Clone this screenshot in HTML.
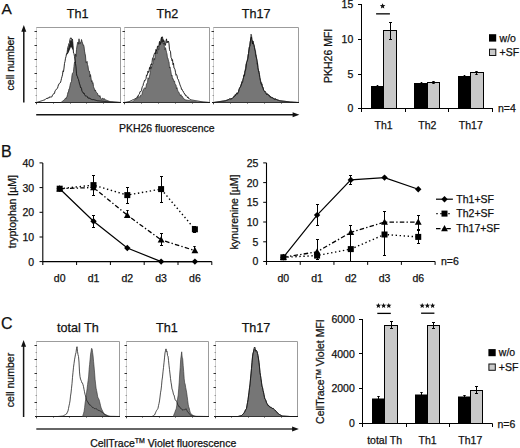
<!DOCTYPE html>
<html><head><meta charset="utf-8"><style>
html,body{margin:0;padding:0;background:#fff;}
svg{display:block;}
text{font-family:"Liberation Sans", sans-serif;fill:#111;stroke:#111;stroke-width:0.25px;}
</style></head><body>
<svg width="520" height="448" viewBox="0 0 520 448">
<rect width="520" height="448" fill="#fff"/>
<text x="1.5" y="13.5" font-size="15.5" text-anchor="start" >A</text>
<text x="1.0" y="157.3" font-size="16" text-anchor="start" >B</text>
<text x="0.9" y="329.1" font-size="16" text-anchor="start" >C</text>
<polyline points="36.5,27.5 120.5,27.5 120.5,102.5" fill="none" stroke="#9c9c9c" stroke-width="1"/>
<line x1="36.5" y1="27.5" x2="36.5" y2="102.5" stroke="#a0a0a0" stroke-width="1" stroke-dasharray="1 1"/>
<line x1="34.5" y1="88.5" x2="37.0" y2="88.5" stroke="#333" stroke-width="1.0" />
<line x1="34.5" y1="73.5" x2="37.0" y2="73.5" stroke="#333" stroke-width="1.0" />
<line x1="34.5" y1="59.5" x2="37.0" y2="59.5" stroke="#333" stroke-width="1.0" />
<line x1="34.5" y1="45.5" x2="37.0" y2="45.5" stroke="#333" stroke-width="1.0" />
<line x1="34.5" y1="31.5" x2="37.0" y2="31.5" stroke="#333" stroke-width="1.0" />
<line x1="35.5" y1="95.5" x2="37.0" y2="95.5" stroke="#888" stroke-width="0.8" />
<line x1="35.5" y1="81.5" x2="37.0" y2="81.5" stroke="#888" stroke-width="0.8" />
<line x1="35.5" y1="66.5" x2="37.0" y2="66.5" stroke="#888" stroke-width="0.8" />
<line x1="35.5" y1="52.5" x2="37.0" y2="52.5" stroke="#888" stroke-width="0.8" />
<line x1="35.5" y1="38.5" x2="37.0" y2="38.5" stroke="#888" stroke-width="0.8" />
<line x1="53.5" y1="102.5" x2="53.5" y2="104.0" stroke="#777" stroke-width="0.8" />
<line x1="70.5" y1="102.5" x2="70.5" y2="104.0" stroke="#777" stroke-width="0.8" />
<line x1="86.5" y1="102.5" x2="86.5" y2="104.0" stroke="#777" stroke-width="0.8" />
<line x1="103.5" y1="102.5" x2="103.5" y2="104.0" stroke="#777" stroke-width="0.8" />
<line x1="36.5" y1="102.5" x2="36.5" y2="104.3" stroke="#444" stroke-width="1.0" />
<line x1="35.0" y1="102.5" x2="121.0" y2="102.5" stroke="#1a1a1a" stroke-width="1.2" />
<polyline points="124.5,27.5 209.5,27.5 209.5,102.5" fill="none" stroke="#9c9c9c" stroke-width="1"/>
<line x1="124.5" y1="27.5" x2="124.5" y2="102.5" stroke="#a0a0a0" stroke-width="1" stroke-dasharray="1 1"/>
<line x1="122.5" y1="88.5" x2="125.0" y2="88.5" stroke="#333" stroke-width="1.0" />
<line x1="122.5" y1="73.5" x2="125.0" y2="73.5" stroke="#333" stroke-width="1.0" />
<line x1="122.5" y1="59.5" x2="125.0" y2="59.5" stroke="#333" stroke-width="1.0" />
<line x1="122.5" y1="45.5" x2="125.0" y2="45.5" stroke="#333" stroke-width="1.0" />
<line x1="122.5" y1="31.5" x2="125.0" y2="31.5" stroke="#333" stroke-width="1.0" />
<line x1="123.5" y1="95.5" x2="125.0" y2="95.5" stroke="#888" stroke-width="0.8" />
<line x1="123.5" y1="81.5" x2="125.0" y2="81.5" stroke="#888" stroke-width="0.8" />
<line x1="123.5" y1="66.5" x2="125.0" y2="66.5" stroke="#888" stroke-width="0.8" />
<line x1="123.5" y1="52.5" x2="125.0" y2="52.5" stroke="#888" stroke-width="0.8" />
<line x1="123.5" y1="38.5" x2="125.0" y2="38.5" stroke="#888" stroke-width="0.8" />
<line x1="141.5" y1="102.5" x2="141.5" y2="104.0" stroke="#777" stroke-width="0.8" />
<line x1="158.5" y1="102.5" x2="158.5" y2="104.0" stroke="#777" stroke-width="0.8" />
<line x1="175.5" y1="102.5" x2="175.5" y2="104.0" stroke="#777" stroke-width="0.8" />
<line x1="192.5" y1="102.5" x2="192.5" y2="104.0" stroke="#777" stroke-width="0.8" />
<line x1="124.5" y1="102.5" x2="124.5" y2="104.3" stroke="#444" stroke-width="1.0" />
<line x1="123.0" y1="102.5" x2="210.0" y2="102.5" stroke="#1a1a1a" stroke-width="1.2" />
<polyline points="213.5,27.5 298.5,27.5 298.5,102.5" fill="none" stroke="#9c9c9c" stroke-width="1"/>
<line x1="213.5" y1="27.5" x2="213.5" y2="102.5" stroke="#a0a0a0" stroke-width="1" stroke-dasharray="1 1"/>
<line x1="211.5" y1="88.5" x2="214.0" y2="88.5" stroke="#333" stroke-width="1.0" />
<line x1="211.5" y1="73.5" x2="214.0" y2="73.5" stroke="#333" stroke-width="1.0" />
<line x1="211.5" y1="59.5" x2="214.0" y2="59.5" stroke="#333" stroke-width="1.0" />
<line x1="211.5" y1="45.5" x2="214.0" y2="45.5" stroke="#333" stroke-width="1.0" />
<line x1="211.5" y1="31.5" x2="214.0" y2="31.5" stroke="#333" stroke-width="1.0" />
<line x1="212.5" y1="95.5" x2="214.0" y2="95.5" stroke="#888" stroke-width="0.8" />
<line x1="212.5" y1="81.5" x2="214.0" y2="81.5" stroke="#888" stroke-width="0.8" />
<line x1="212.5" y1="66.5" x2="214.0" y2="66.5" stroke="#888" stroke-width="0.8" />
<line x1="212.5" y1="52.5" x2="214.0" y2="52.5" stroke="#888" stroke-width="0.8" />
<line x1="212.5" y1="38.5" x2="214.0" y2="38.5" stroke="#888" stroke-width="0.8" />
<line x1="230.5" y1="102.5" x2="230.5" y2="104.0" stroke="#777" stroke-width="0.8" />
<line x1="247.5" y1="102.5" x2="247.5" y2="104.0" stroke="#777" stroke-width="0.8" />
<line x1="264.5" y1="102.5" x2="264.5" y2="104.0" stroke="#777" stroke-width="0.8" />
<line x1="281.5" y1="102.5" x2="281.5" y2="104.0" stroke="#777" stroke-width="0.8" />
<line x1="213.5" y1="102.5" x2="213.5" y2="104.3" stroke="#444" stroke-width="1.0" />
<line x1="212.0" y1="102.5" x2="299.0" y2="102.5" stroke="#1a1a1a" stroke-width="1.2" />
<polygon points="61.00,102.50 61.50,102.09 62.00,101.68 62.50,101.27 63.00,100.86 63.50,100.45 64.00,100.05 64.50,99.64 65.00,98.91 65.50,98.15 66.00,98.71 66.50,97.09 67.00,96.57 67.50,94.60 68.00,92.13 68.50,91.97 69.00,88.82 69.50,88.67 70.00,85.73 70.50,83.33 71.00,82.13 71.50,81.45 72.00,75.44 72.50,73.30 73.00,72.80 73.50,71.66 74.00,66.50 74.50,62.36 75.00,63.10 75.50,53.94 76.00,56.50 76.50,49.49 77.00,45.89 77.50,43.13 78.00,42.03 78.50,44.26 79.00,38.80 79.50,42.44 80.00,44.06 80.50,42.27 81.00,42.52 81.50,39.52 82.00,41.56 82.50,42.80 83.00,45.30 83.50,44.89 84.00,46.49 84.50,51.09 85.00,53.50 85.50,56.02 86.00,62.36 86.50,62.97 87.00,61.34 87.50,64.66 88.00,66.13 88.50,70.31 89.00,71.54 89.50,71.21 90.00,77.04 90.50,74.55 91.00,78.10 91.50,81.71 92.00,80.63 92.50,83.40 93.00,82.76 93.50,86.63 94.00,88.23 94.50,88.72 95.00,91.04 95.50,90.20 96.00,92.14 96.50,92.46 97.00,93.07 97.50,93.36 98.00,95.13 98.50,96.05 99.00,95.41 99.50,96.56 100.00,95.76 100.50,97.92 101.00,98.35 101.50,99.26 102.00,99.08 102.50,98.21 103.00,98.61 103.50,99.34 104.00,98.36 104.50,99.36 105.00,99.62 105.50,99.82 106.00,100.02 106.50,100.22 107.00,100.41 107.50,100.61 108.00,100.81 108.50,101.01 109.00,101.20 109.50,101.40 110.00,101.60 110.50,101.64 111.00,101.69 111.50,101.73 112.00,101.77 112.50,101.81 113.00,101.86 113.50,101.90 114.00,101.94 114.50,101.99 115.00,102.03 115.50,102.07 116.00,102.11 116.50,102.16 117.00,102.20 117.50,102.24 118.00,102.29 118.50,102.33 119.00,102.37 119.50,102.41 120.00,102.46 120.50,102.50" fill="#767676" stroke="#2a2a2a" stroke-width="0.8"/>
<polyline points="36.50,102.50 37.00,102.34 37.50,102.17 38.00,102.01 38.50,101.85 39.00,101.69 39.50,101.52 40.00,101.36 40.50,101.20 41.00,101.04 41.50,100.87 42.00,100.71 42.50,100.55 43.00,100.39 43.50,100.22 44.00,100.06 44.50,99.90 45.00,99.70 45.50,99.10 46.00,98.78 46.50,98.45 47.00,99.01 47.50,98.00 48.00,97.89 48.50,97.81 49.00,98.19 49.50,96.88 50.00,97.13 50.50,97.02 51.00,97.25 51.50,96.92 52.00,96.75 52.50,95.11 53.00,94.59 53.50,93.74 54.00,93.96 54.50,93.39 55.00,91.10 55.50,90.39 56.00,89.75 56.50,89.00 57.00,88.80 57.50,88.30 58.00,86.40 58.50,84.61 59.00,84.48 59.50,83.20 60.00,82.58 60.50,82.52 61.00,80.67 61.50,78.35 62.00,76.66 62.50,74.86 63.00,70.83 63.50,71.66 64.00,68.07 64.50,63.43 65.00,61.50 65.50,58.25 66.00,56.61 66.50,53.73 67.00,53.93 67.50,49.26 68.00,47.02 68.50,45.39 69.00,43.44 69.50,42.52 70.00,39.44 70.50,37.94 71.00,38.14 71.50,38.15 72.00,40.12 72.50,39.24 73.00,45.74 73.50,53.09 74.00,53.70 74.50,56.69 75.00,60.11 75.50,63.53 76.00,66.93 76.50,73.84 77.00,76.26 77.50,76.60 78.00,78.65 78.50,79.54 79.00,81.64 79.50,83.86 80.00,84.94 80.50,87.57 81.00,87.28 81.50,88.27 82.00,91.51 82.50,91.90 83.00,92.14 83.50,93.38 84.00,92.96 84.50,94.35 85.00,95.60 85.50,95.88 86.00,96.10 86.50,95.94 87.00,96.61 87.50,96.84 88.00,98.15 88.50,98.13 89.00,98.58 89.50,98.18 90.00,98.20 90.50,99.05 91.00,99.39 91.50,99.38 92.00,99.46 92.50,99.62 93.00,99.68 93.50,99.57 94.00,99.72 94.50,99.87 95.00,100.02 95.50,100.17 96.00,100.31 96.50,100.46 97.00,100.61 97.50,100.72 98.00,100.77 98.50,100.82 99.00,100.87 99.50,100.93 100.00,100.98 100.50,101.03 101.00,101.08 101.50,101.13 102.00,101.18 102.50,101.23 103.00,101.28 103.50,101.33 104.00,101.39 104.50,101.44 105.00,101.49 105.50,101.54 106.00,101.59 106.50,101.64 107.00,101.69 107.50,101.74 108.00,101.80 108.50,101.85 109.00,101.90 109.50,101.95 110.00,102.00 110.50,102.02 111.00,102.05 111.50,102.07 112.00,102.10 112.50,102.12 113.00,102.14 113.50,102.17 114.00,102.19 114.50,102.21 115.00,102.24 115.50,102.26 116.00,102.29 116.50,102.31 117.00,102.33 117.50,102.36 118.00,102.38 118.50,102.40 119.00,102.43 119.50,102.45 120.00,102.48 120.50,102.50" fill="none" stroke="#111" stroke-width="0.9"/>
<polygon points="66.50,55.20 68.50,46.70 70.30,40.50 71.20,39.60 72.30,41.20 72.90,42.00 73.30,50.70 71.00,46.70 68.50,52.70" fill="#222"/>
<polygon points="127.00,102.50 127.50,102.42 128.00,102.34 128.50,102.27 129.00,102.19 129.50,102.11 130.00,102.03 130.50,101.96 131.00,101.88 131.50,101.80 132.00,101.72 132.50,101.65 133.00,101.45 133.50,101.08 134.00,100.70 134.50,100.33 135.00,99.95 135.50,99.58 136.00,98.74 136.50,98.86 137.00,98.18 137.50,97.15 138.00,96.73 138.50,96.86 139.00,96.42 139.50,97.01 140.00,97.27 140.50,95.24 141.00,95.70 141.50,95.07 142.00,94.21 142.50,91.66 143.00,90.36 143.50,89.52 144.00,88.56 144.50,87.73 145.00,88.37 145.50,88.57 146.00,86.91 146.50,84.02 147.00,83.24 147.50,82.39 148.00,77.75 148.50,78.84 149.00,78.55 149.50,76.08 150.00,73.95 150.50,70.55 151.00,66.90 151.50,68.25 152.00,63.66 152.50,64.38 153.00,63.88 153.50,59.16 154.00,57.94 154.50,60.10 155.00,57.48 155.50,52.67 156.00,51.11 156.50,50.01 157.00,53.81 157.50,51.96 158.00,46.24 158.50,49.71 159.00,49.60 159.50,46.13 160.00,42.73 160.50,43.15 161.00,39.12 161.50,37.24 162.00,43.43 162.50,40.44 163.00,38.90 163.50,44.17 164.00,42.82 164.50,48.22 165.00,49.86 165.50,47.64 166.00,49.95 166.50,52.26 167.00,53.97 167.50,58.18 168.00,58.19 168.50,61.20 169.00,61.56 169.50,68.02 170.00,66.89 170.50,69.48 171.00,72.13 171.50,75.73 172.00,75.01 172.50,78.87 173.00,78.41 173.50,80.04 174.00,81.50 174.50,80.91 175.00,84.16 175.50,84.49 176.00,84.88 176.50,88.80 177.00,87.60 177.50,89.66 178.00,91.48 178.50,91.94 179.00,92.28 179.50,93.84 180.00,94.75 180.50,95.82 181.00,94.63 181.50,96.24 182.00,96.03 182.50,96.62 183.00,98.16 183.50,98.12 184.00,98.71 184.50,99.55 185.00,99.60 185.50,99.85 186.00,99.94 186.50,100.03 187.00,100.11 187.50,100.20 188.00,100.29 188.50,100.37 189.00,100.46 189.50,100.54 190.00,100.63 190.50,100.72 191.00,100.80 191.50,100.89 192.00,100.98 192.50,101.06 193.00,101.15 193.50,101.24 194.00,101.32 194.50,101.41 195.00,101.50 195.50,101.58 196.00,101.67 196.50,101.76 197.00,101.84 197.50,101.93 198.00,102.00 198.50,102.03 199.00,102.05 199.50,102.07 200.00,102.09 200.50,102.11 201.00,102.13 201.50,102.16 202.00,102.18 202.50,102.20 203.00,102.22 203.50,102.24 204.00,102.26 204.50,102.28 205.00,102.31 205.50,102.33 206.00,102.35 206.50,102.37 207.00,102.39 207.50,102.41 208.00,102.44 208.50,102.46 209.00,102.48 209.50,102.50" fill="#767676" stroke="#2a2a2a" stroke-width="0.7"/>
<polyline points="124.50,102.50 125.00,102.40 125.50,102.31 126.00,102.21 126.50,102.12 127.00,102.02 127.50,101.93 128.00,101.83 128.50,101.73 129.00,101.64 129.50,101.45 130.00,101.21 130.50,100.96 131.00,100.71 131.50,100.47 132.00,100.22 132.50,99.97 133.00,99.73 133.50,99.96 134.00,99.16 134.50,99.13 135.00,98.75 135.50,98.51 136.00,98.51 136.50,97.93 137.00,97.22 137.50,96.30 138.00,96.28 138.50,95.04 139.00,94.57 139.50,93.91 140.00,91.65 140.50,91.47 141.00,91.52 141.50,90.48 142.00,87.82 142.50,86.32 143.00,85.74 143.50,83.27 144.00,82.31 144.50,80.36 145.00,80.78 145.50,79.76 146.00,78.75 146.50,74.87 147.00,75.56 147.50,74.12 148.00,70.99 148.50,72.48 149.00,71.58 149.50,67.46 150.00,69.09 150.50,65.38 151.00,64.22 151.50,64.82 152.00,62.67 152.50,58.25 153.00,57.91 153.50,56.77 154.00,54.87 154.50,53.20 155.00,52.75 155.50,53.65 156.00,49.31 156.50,50.86 157.00,49.31 157.50,46.11 158.00,46.42 158.50,46.66 159.00,44.88 159.50,41.38 160.00,44.90 160.50,42.68 161.00,42.54 161.50,37.21 162.00,37.30 162.50,36.90 163.00,41.99 163.50,40.51 164.00,40.34 164.50,42.40 165.00,45.47 165.50,45.15 166.00,40.86 166.50,38.86 167.00,43.02 167.50,41.32 168.00,42.12 168.50,41.19 169.00,43.83 169.50,49.72 170.00,51.04 170.50,51.40 171.00,57.41 171.50,58.00 172.00,60.72 172.50,59.62 173.00,64.70 173.50,63.21 174.00,68.19 174.50,68.32 175.00,69.66 175.50,72.23 176.00,75.32 176.50,74.59 177.00,75.65 177.50,78.49 178.00,79.07 178.50,80.20 179.00,81.90 179.50,83.12 180.00,84.88 180.50,86.19 181.00,87.17 181.50,89.31 182.00,89.15 182.50,90.64 183.00,90.92 183.50,92.30 184.00,92.65 184.50,94.01 185.00,94.02 185.50,95.76 186.00,95.86 186.50,95.68 187.00,96.59 187.50,97.73 188.00,96.90 188.50,98.37 189.00,98.25 189.50,98.76 190.00,99.61 190.50,99.63 191.00,99.85 191.50,99.94 192.00,100.03 192.50,100.11 193.00,100.20 193.50,100.29 194.00,100.38 194.50,100.46 195.00,100.55 195.50,100.64 196.00,100.73 196.50,100.81 197.00,100.90 197.50,100.99 198.00,101.07 198.50,101.16 199.00,101.25 199.50,101.34 200.00,101.42 200.50,101.51 201.00,101.60 201.50,101.69 202.00,101.77 202.50,101.86 203.00,101.95 203.50,102.02 204.00,102.06 204.50,102.10 205.00,102.14 205.50,102.18 206.00,102.22 206.50,102.26 207.00,102.30 207.50,102.34 208.00,102.38 208.50,102.42 209.00,102.46 209.50,102.50" fill="none" stroke="#111" stroke-width="0.9"/>
<polygon points="213.50,102.50 214.00,102.42 214.50,102.35 215.00,102.28 215.50,102.20 216.00,102.12 216.50,102.05 217.00,101.97 217.50,101.90 218.00,101.83 218.50,101.75 219.00,101.67 219.50,101.60 220.00,101.53 220.50,101.45 221.00,101.38 221.50,101.30 222.00,101.23 222.50,101.15 223.00,101.08 223.50,101.00 224.00,100.92 224.50,100.85 225.00,100.78 225.50,100.70 226.00,100.51 226.50,100.33 227.00,100.14 227.50,99.95 228.00,99.76 228.50,99.58 229.00,99.22 229.50,99.21 230.00,99.32 230.50,99.63 231.00,98.37 231.50,99.03 232.00,98.63 232.50,98.32 233.00,97.52 233.50,96.90 234.00,95.77 234.50,95.39 235.00,94.73 235.50,95.76 236.00,94.11 236.50,93.36 237.00,92.63 237.50,94.10 238.00,93.71 238.50,92.08 239.00,89.67 239.50,88.24 240.00,87.11 240.50,86.39 241.00,84.04 241.50,83.80 242.00,81.58 242.50,82.70 243.00,81.15 243.50,77.70 244.00,74.69 244.50,76.15 245.00,70.58 245.50,68.28 246.00,63.91 246.50,63.35 247.00,61.31 247.50,58.94 248.00,54.64 248.50,53.66 249.00,47.78 249.50,46.38 250.00,41.91 250.50,40.53 251.00,34.08 251.50,35.19 252.00,39.67 252.50,40.41 253.00,43.13 253.50,43.10 254.00,46.06 254.50,47.22 255.00,50.57 255.50,54.53 256.00,54.54 256.50,57.20 257.00,64.21 257.50,62.97 258.00,68.86 258.50,71.19 259.00,71.06 259.50,77.20 260.00,79.87 260.50,81.22 261.00,83.42 261.50,85.03 262.00,83.92 262.50,86.65 263.00,87.93 263.50,90.21 264.00,90.84 264.50,91.62 265.00,91.64 265.50,93.25 266.00,93.39 266.50,94.15 267.00,93.73 267.50,93.60 268.00,94.20 268.50,95.08 269.00,94.84 269.50,96.80 270.00,96.53 270.50,97.00 271.00,97.32 271.50,97.75 272.00,97.71 272.50,97.13 273.00,98.76 273.50,98.84 274.00,98.60 274.50,98.84 275.00,99.22 275.50,98.46 276.00,99.70 276.50,99.52 277.00,99.70 277.50,99.89 278.00,100.07 278.50,100.26 279.00,100.44 279.50,100.63 280.00,100.74 280.50,100.80 281.00,100.86 281.50,100.92 282.00,100.98 282.50,101.04 283.00,101.10 283.50,101.16 284.00,101.22 284.50,101.28 285.00,101.34 285.50,101.40 286.00,101.46 286.50,101.52 287.00,101.58 287.50,101.64 288.00,101.70 288.50,101.76 289.00,101.82 289.50,101.88 290.00,101.94 290.50,102.00 291.00,102.03 291.50,102.06 292.00,102.09 292.50,102.12 293.00,102.16 293.50,102.19 294.00,102.22 294.50,102.25 295.00,102.28 295.50,102.31 296.00,102.34 296.50,102.38 297.00,102.41 297.50,102.44 298.00,102.47 298.50,102.50" fill="#767676" stroke="#2a2a2a" stroke-width="0.7"/>
<polyline points="213.50,102.50 214.00,102.42 214.50,102.35 215.00,102.28 215.50,102.20 216.00,102.12 216.50,102.05 217.00,101.97 217.50,101.90 218.00,101.83 218.50,101.75 219.00,101.67 219.50,101.60 220.00,101.53 220.50,101.45 221.00,101.38 221.50,101.30 222.00,101.23 222.50,101.15 223.00,101.08 223.50,101.00 224.00,100.92 224.50,100.85 225.00,100.78 225.50,100.70 226.00,100.51 226.50,100.33 227.00,100.14 227.50,99.95 228.00,99.76 228.50,99.58 229.00,99.15 229.50,98.79 230.00,98.78 230.50,99.06 231.00,98.33 231.50,98.71 232.00,98.78 232.50,98.07 233.00,97.56 233.50,97.17 234.00,96.94 234.50,96.56 235.00,95.86 235.50,95.41 236.00,94.07 236.50,93.66 237.00,93.31 237.50,93.60 238.00,92.37 238.50,91.71 239.00,89.42 239.50,88.20 240.00,87.32 240.50,86.90 241.00,85.69 241.50,84.41 242.00,82.00 242.50,80.87 243.00,79.08 243.50,77.41 244.00,74.78 244.50,75.12 245.00,70.61 245.50,70.48 246.00,67.90 246.50,62.39 247.00,61.32 247.50,60.05 248.00,58.10 248.50,53.44 249.00,49.97 249.50,46.75 250.00,46.43 250.50,40.01 251.00,37.64 251.50,36.97 252.00,41.10 252.50,44.08 253.00,41.04 253.50,44.22 254.00,44.44 254.50,47.75 255.00,49.99 255.50,51.18 256.00,56.66 256.50,58.15 257.00,59.90 257.50,63.21 258.00,67.69 258.50,70.34 259.00,72.63 259.50,74.71 260.00,77.79 260.50,80.24 261.00,83.32 261.50,82.72 262.00,85.77 262.50,87.29 263.00,87.14 263.50,89.98 264.00,90.30 264.50,91.39 265.00,91.03 265.50,91.93 266.00,92.72 266.50,94.44 267.00,94.54 267.50,94.53 268.00,94.96 268.50,95.08 269.00,95.11 269.50,95.53 270.00,96.84 270.50,96.46 271.00,97.61 271.50,97.10 272.00,97.46 272.50,98.05 273.00,97.88 273.50,98.27 274.00,99.07 274.50,99.17 275.00,99.27 275.50,99.27 276.00,99.72 276.50,99.52 277.00,99.70 277.50,99.89 278.00,100.07 278.50,100.26 279.00,100.44 279.50,100.63 280.00,100.74 280.50,100.80 281.00,100.86 281.50,100.92 282.00,100.98 282.50,101.04 283.00,101.10 283.50,101.16 284.00,101.22 284.50,101.28 285.00,101.34 285.50,101.40 286.00,101.46 286.50,101.52 287.00,101.58 287.50,101.64 288.00,101.70 288.50,101.76 289.00,101.82 289.50,101.88 290.00,101.94 290.50,102.00 291.00,102.03 291.50,102.06 292.00,102.09 292.50,102.12 293.00,102.16 293.50,102.19 294.00,102.22 294.50,102.25 295.00,102.28 295.50,102.31 296.00,102.34 296.50,102.38 297.00,102.41 297.50,102.44 298.00,102.47 298.50,102.50" fill="none" stroke="#111" stroke-width="0.9"/>
<text x="77.6" y="17.5" font-size="12.6" text-anchor="middle" >Th1</text>
<text x="167.3" y="17.5" font-size="12.6" text-anchor="middle" >Th2</text>
<text x="256.2" y="17.5" font-size="12.6" text-anchor="middle" >Th17</text>
<line x1="23.8" y1="102.5" x2="23.8" y2="30" stroke="#151515" stroke-width="1.5" />
<polygon points="21.3,31.8 23.8,25 26.3,31.8" fill="#111"/>
<line x1="36.2" y1="114.8" x2="294.4" y2="114.8" stroke="#151515" stroke-width="1.5" />
<polygon points="292.59999999999997,112.3 299.4,114.8 292.59999999999997,117.3" fill="#111"/>
<text x="0" y="0" font-size="10.5" text-anchor="middle" transform="translate(13.8,63.3) rotate(-90)" >cell number</text>
<text x="166.8" y="132.4" font-size="10.5" text-anchor="middle" >PKH26 fluorescence</text>
<line x1="361.5" y1="4.0" x2="361.5" y2="112.0" stroke="#000" stroke-width="1.0" />
<line x1="358.0" y1="4.5" x2="361.5" y2="4.5" stroke="#000" stroke-width="1.0" />
<text x="353.3" y="8.1" font-size="10.5" text-anchor="end" >15</text>
<line x1="358.0" y1="39.5" x2="361.5" y2="39.5" stroke="#000" stroke-width="1.0" />
<text x="353.3" y="43.1" font-size="10.5" text-anchor="end" >10</text>
<line x1="358.0" y1="74.5" x2="361.5" y2="74.5" stroke="#000" stroke-width="1.0" />
<text x="353.3" y="78.1" font-size="10.5" text-anchor="end" >5</text>
<line x1="358.0" y1="108.5" x2="361.5" y2="108.5" stroke="#000" stroke-width="1.0" />
<text x="353.3" y="112.1" font-size="10.5" text-anchor="end" >0</text>
<line x1="361.5" y1="108.5" x2="493.0" y2="108.5" stroke="#000" stroke-width="1.0" />
<line x1="405.5" y1="108.5" x2="405.5" y2="112.0" stroke="#000" stroke-width="1.0" />
<line x1="448.5" y1="108.5" x2="448.5" y2="112.0" stroke="#000" stroke-width="1.0" />
<line x1="492.5" y1="108.5" x2="492.5" y2="112.0" stroke="#000" stroke-width="1.0" />
<rect x="371" y="86" width="13" height="23" fill="#000"/>
<rect x="383.5" y="30.5" width="13.0" height="78.0" fill="#c9c9c9" stroke="#000" stroke-width="1"/>
<rect x="414" y="83" width="14" height="26" fill="#000"/>
<rect x="427.5" y="82.5" width="12.0" height="26.0" fill="#c9c9c9" stroke="#000" stroke-width="1"/>
<rect x="458" y="76" width="13" height="33" fill="#000"/>
<rect x="470.5" y="72.5" width="13.0" height="36.0" fill="#c9c9c9" stroke="#000" stroke-width="1"/>
<line x1="390.5" y1="22.3" x2="390.5" y2="39.2" stroke="#000" stroke-width="1.0" />
<line x1="389.0" y1="22.5" x2="392.0" y2="22.5" stroke="#000" stroke-width="1.0" />
<line x1="389.0" y1="39.5" x2="392.0" y2="39.5" stroke="#000" stroke-width="1.0" />
<line x1="377.5" y1="85.3" x2="377.5" y2="86.4" stroke="#000" stroke-width="1.0" />
<line x1="376.7" y1="85.5" x2="378.3" y2="85.5" stroke="#000" stroke-width="1.0" />
<line x1="376.7" y1="86.5" x2="378.3" y2="86.5" stroke="#000" stroke-width="1.0" />
<line x1="421.5" y1="82.6" x2="421.5" y2="83.8" stroke="#000" stroke-width="1.0" />
<line x1="420.7" y1="82.5" x2="422.3" y2="82.5" stroke="#000" stroke-width="1.0" />
<line x1="420.7" y1="83.5" x2="422.3" y2="83.5" stroke="#000" stroke-width="1.0" />
<line x1="433.5" y1="81.3" x2="433.5" y2="83.2" stroke="#000" stroke-width="1.0" />
<line x1="432.3" y1="81.5" x2="434.7" y2="81.5" stroke="#000" stroke-width="1.0" />
<line x1="432.3" y1="83.5" x2="434.7" y2="83.5" stroke="#000" stroke-width="1.0" />
<line x1="464.5" y1="75.6" x2="464.5" y2="77.0" stroke="#000" stroke-width="1.0" />
<line x1="463.7" y1="75.5" x2="465.3" y2="75.5" stroke="#000" stroke-width="1.0" />
<line x1="463.7" y1="77.5" x2="465.3" y2="77.5" stroke="#000" stroke-width="1.0" />
<line x1="476.5" y1="71.4" x2="476.5" y2="74.2" stroke="#000" stroke-width="1.0" />
<line x1="475.3" y1="71.5" x2="477.7" y2="71.5" stroke="#000" stroke-width="1.0" />
<line x1="475.3" y1="74.5" x2="477.7" y2="74.5" stroke="#000" stroke-width="1.0" />
<polygon points="382.60,3.20 383.37,5.04 385.36,5.20 383.84,6.50 384.30,8.45 382.60,7.40 380.90,8.45 381.36,6.50 379.84,5.20 381.83,5.04" fill="#111"/>
<line x1="376.1" y1="13.85" x2="389.9" y2="13.85" stroke="#000" stroke-width="1.3" />
<text x="383.6" y="128.7" font-size="10.5" text-anchor="middle" >Th1</text>
<text x="427.3" y="128.7" font-size="10.5" text-anchor="middle" >Th2</text>
<text x="470.8" y="128.7" font-size="10.5" text-anchor="middle" >Th17</text>
<text x="498.0" y="111.8" font-size="10.5" text-anchor="start" >n=4</text>
<text x="0" y="0" font-size="10.5" text-anchor="middle" transform="translate(332.3,55.9) rotate(-90)" >PKH26 MFI</text>
<rect x="489" y="34.2" width="7.2" height="7.4" fill="#000"/>
<text x="499.6" y="41.5" font-size="10.5" text-anchor="start" >w/o</text>
<rect x="489.5" y="49.2" width="6.3" height="6.3" fill="#c9c9c9" stroke="#111" stroke-width="1"/>
<text x="499.6" y="55.8" font-size="10.5" text-anchor="start" >+SF</text>
<line x1="362.5" y1="319.0" x2="362.5" y2="427.0" stroke="#000" stroke-width="1.0" />
<line x1="359.0" y1="319.5" x2="362.5" y2="319.5" stroke="#000" stroke-width="1.0" />
<text x="354.8" y="323.09999999999997" font-size="10.5" text-anchor="end" >6000</text>
<line x1="359.0" y1="353.5" x2="362.5" y2="353.5" stroke="#000" stroke-width="1.0" />
<text x="354.8" y="357.7" font-size="10.5" text-anchor="end" >4000</text>
<line x1="359.0" y1="388.5" x2="362.5" y2="388.5" stroke="#000" stroke-width="1.0" />
<text x="354.8" y="392.4" font-size="10.5" text-anchor="end" >2000</text>
<line x1="359.0" y1="423.5" x2="362.5" y2="423.5" stroke="#000" stroke-width="1.0" />
<text x="354.8" y="427.09999999999997" font-size="10.5" text-anchor="end" >0</text>
<line x1="362.5" y1="423.5" x2="492.5" y2="423.5" stroke="#000" stroke-width="1.0" />
<line x1="406.5" y1="423.5" x2="406.5" y2="427.0" stroke="#000" stroke-width="1.0" />
<line x1="449.5" y1="423.5" x2="449.5" y2="427.0" stroke="#000" stroke-width="1.0" />
<line x1="492.5" y1="423.5" x2="492.5" y2="427.0" stroke="#000" stroke-width="1.0" />
<rect x="372" y="398.5" width="13" height="25.5" fill="#000"/>
<rect x="384.5" y="325.5" width="13.0" height="98.0" fill="#c9c9c9" stroke="#000" stroke-width="1"/>
<rect x="415" y="394.5" width="13" height="29.5" fill="#000"/>
<rect x="427.5" y="325.5" width="12.0" height="98.0" fill="#c9c9c9" stroke="#000" stroke-width="1"/>
<rect x="458" y="396.5" width="13" height="27.5" fill="#000"/>
<rect x="470.5" y="390.5" width="12.0" height="33.0" fill="#c9c9c9" stroke="#000" stroke-width="1"/>
<line x1="391.5" y1="321.5" x2="391.5" y2="328.6" stroke="#000" stroke-width="1.0" />
<line x1="390.0" y1="321.5" x2="393.0" y2="321.5" stroke="#000" stroke-width="1.0" />
<line x1="390.0" y1="328.5" x2="393.0" y2="328.5" stroke="#000" stroke-width="1.0" />
<line x1="433.5" y1="322.5" x2="433.5" y2="328.5" stroke="#000" stroke-width="1.0" />
<line x1="432.0" y1="322.5" x2="435.0" y2="322.5" stroke="#000" stroke-width="1.0" />
<line x1="432.0" y1="328.5" x2="435.0" y2="328.5" stroke="#000" stroke-width="1.0" />
<line x1="476.5" y1="386.9" x2="476.5" y2="393.2" stroke="#000" stroke-width="1.0" />
<line x1="475.0" y1="386.5" x2="478.0" y2="386.5" stroke="#000" stroke-width="1.0" />
<line x1="475.0" y1="393.5" x2="478.0" y2="393.5" stroke="#000" stroke-width="1.0" />
<line x1="378.5" y1="396.4" x2="378.5" y2="399.5" stroke="#000" stroke-width="1.0" />
<line x1="377.3" y1="396.5" x2="379.7" y2="396.5" stroke="#000" stroke-width="1.0" />
<line x1="377.3" y1="399.5" x2="379.7" y2="399.5" stroke="#000" stroke-width="1.0" />
<line x1="421.5" y1="392.5" x2="421.5" y2="395.5" stroke="#000" stroke-width="1.0" />
<line x1="420.3" y1="392.5" x2="422.7" y2="392.5" stroke="#000" stroke-width="1.0" />
<line x1="420.3" y1="395.5" x2="422.7" y2="395.5" stroke="#000" stroke-width="1.0" />
<line x1="464.5" y1="395.3" x2="464.5" y2="397.8" stroke="#000" stroke-width="1.0" />
<line x1="463.3" y1="395.5" x2="465.7" y2="395.5" stroke="#000" stroke-width="1.0" />
<line x1="463.3" y1="397.5" x2="465.7" y2="397.5" stroke="#000" stroke-width="1.0" />
<polygon points="378.40,302.90 379.14,304.68 381.06,304.83 379.60,306.09 380.05,307.97 378.40,306.96 376.75,307.97 377.20,306.09 375.74,304.83 377.66,304.68" fill="#111"/>
<polygon points="383.60,302.90 384.34,304.68 386.26,304.83 384.80,306.09 385.25,307.97 383.60,306.96 381.95,307.97 382.40,306.09 380.94,304.83 382.86,304.68" fill="#111"/>
<polygon points="388.80,302.90 389.54,304.68 391.46,304.83 390.00,306.09 390.45,307.97 388.80,306.96 387.15,307.97 387.60,306.09 386.14,304.83 388.06,304.68" fill="#111"/>
<polygon points="422.20,302.90 422.94,304.68 424.86,304.83 423.40,306.09 423.85,307.97 422.20,306.96 420.55,307.97 421.00,306.09 419.54,304.83 421.46,304.68" fill="#111"/>
<polygon points="427.40,302.90 428.14,304.68 430.06,304.83 428.60,306.09 429.05,307.97 427.40,306.96 425.75,307.97 426.20,306.09 424.74,304.83 426.66,304.68" fill="#111"/>
<polygon points="432.60,302.90 433.34,304.68 435.26,304.83 433.80,306.09 434.25,307.97 432.60,306.96 430.95,307.97 431.40,306.09 429.94,304.83 431.86,304.68" fill="#111"/>
<line x1="377.3" y1="313.4" x2="390.8" y2="313.4" stroke="#000" stroke-width="1.3" />
<line x1="421.1" y1="313.2" x2="434.4" y2="313.2" stroke="#000" stroke-width="1.3" />
<text x="384.6" y="444.0" font-size="10.5" text-anchor="middle" >total Th</text>
<text x="427.6" y="444.0" font-size="10.5" text-anchor="middle" >Th1</text>
<text x="470.3" y="443.8" font-size="10.5" text-anchor="middle" >Th17</text>
<text x="497.5" y="427.6" font-size="10.5" text-anchor="start" >n=6</text>
<text x="0" y="0" font-size="10.5" text-anchor="middle" transform="translate(324.3,371.6) rotate(-90)">CellTrace<tspan font-size="7" dy="-3.5">TM</tspan><tspan dy="3.5"> Violet MFI</tspan></text>
<rect x="488.4" y="349.1" width="7.3" height="7.1" fill="#000"/>
<text x="498.8" y="356.3" font-size="10.5" text-anchor="start" >w/o</text>
<rect x="488.9" y="364.0" width="6.4" height="6.3" fill="#c9c9c9" stroke="#111" stroke-width="1"/>
<text x="498.8" y="370.7" font-size="10.5" text-anchor="start" >+SF</text>
<line x1="42.8" y1="162.9" x2="42.8" y2="265.0" stroke="#000" stroke-width="1.1" />
<line x1="39.5" y1="162.9" x2="42.8" y2="162.9" stroke="#000" stroke-width="1.0" />
<text x="34.2" y="166.8" font-size="10.5" text-anchor="end" >40</text>
<line x1="39.5" y1="187.6" x2="42.8" y2="187.6" stroke="#000" stroke-width="1.0" />
<text x="34.2" y="191.5" font-size="10.5" text-anchor="end" >30</text>
<line x1="39.5" y1="212.3" x2="42.8" y2="212.3" stroke="#000" stroke-width="1.0" />
<text x="34.2" y="216.20000000000002" font-size="10.5" text-anchor="end" >20</text>
<line x1="39.5" y1="237.0" x2="42.8" y2="237.0" stroke="#000" stroke-width="1.0" />
<text x="34.2" y="240.9" font-size="10.5" text-anchor="end" >10</text>
<line x1="39.5" y1="261.6" x2="42.8" y2="261.6" stroke="#000" stroke-width="1.0" />
<text x="34.2" y="265.5" font-size="10.5" text-anchor="end" >0</text>
<line x1="42.8" y1="261.6" x2="211.8" y2="261.6" stroke="#000" stroke-width="1.1" />
<line x1="76.6" y1="261.6" x2="76.6" y2="265.0" stroke="#000" stroke-width="1.0" />
<line x1="110.39999999999999" y1="261.6" x2="110.39999999999999" y2="265.0" stroke="#000" stroke-width="1.0" />
<line x1="144.2" y1="261.6" x2="144.2" y2="265.0" stroke="#000" stroke-width="1.0" />
<line x1="178.0" y1="261.6" x2="178.0" y2="265.0" stroke="#000" stroke-width="1.0" />
<line x1="211.8" y1="261.6" x2="211.8" y2="265.0" stroke="#000" stroke-width="1.0" />
<text x="59.699999999999996" y="282.3" font-size="10.5" text-anchor="middle" >d0</text>
<text x="93.5" y="282.3" font-size="10.5" text-anchor="middle" >d1</text>
<text x="127.3" y="282.3" font-size="10.5" text-anchor="middle" >d2</text>
<text x="161.09999999999997" y="282.3" font-size="10.5" text-anchor="middle" >d3</text>
<text x="194.89999999999998" y="282.3" font-size="10.5" text-anchor="middle" >d6</text>
<text x="0" y="0" font-size="10.5" text-anchor="middle" transform="translate(15.6,211.6) rotate(-90)" >tryptophan [µM]</text>
<line x1="93.5" y1="175.6" x2="93.5" y2="195.7" stroke="#000" stroke-width="1.0" />
<line x1="92.0" y1="175.5" x2="95.0" y2="175.5" stroke="#000" stroke-width="1.0" />
<line x1="92.0" y1="195.5" x2="95.0" y2="195.5" stroke="#000" stroke-width="1.0" />
<line x1="93.5" y1="215.8" x2="93.5" y2="227.3" stroke="#000" stroke-width="1.0" />
<line x1="92.0" y1="215.5" x2="95.0" y2="215.5" stroke="#000" stroke-width="1.0" />
<line x1="92.0" y1="227.5" x2="95.0" y2="227.5" stroke="#000" stroke-width="1.0" />
<line x1="127.5" y1="187.7" x2="127.5" y2="203.1" stroke="#000" stroke-width="1.0" />
<line x1="126.0" y1="187.5" x2="129.0" y2="187.5" stroke="#000" stroke-width="1.0" />
<line x1="126.0" y1="203.5" x2="129.0" y2="203.5" stroke="#000" stroke-width="1.0" />
<line x1="127.5" y1="210.2" x2="127.5" y2="215.0" stroke="#000" stroke-width="1.0" />
<line x1="126.3" y1="210.5" x2="128.7" y2="210.5" stroke="#000" stroke-width="1.0" />
<line x1="161.5" y1="176.4" x2="161.5" y2="202.1" stroke="#000" stroke-width="1.0" />
<line x1="160.0" y1="176.5" x2="163.0" y2="176.5" stroke="#000" stroke-width="1.0" />
<line x1="160.0" y1="202.5" x2="163.0" y2="202.5" stroke="#000" stroke-width="1.0" />
<line x1="161.5" y1="233.9" x2="161.5" y2="245.9" stroke="#000" stroke-width="1.0" />
<line x1="160.0" y1="233.5" x2="163.0" y2="233.5" stroke="#000" stroke-width="1.0" />
<line x1="160.0" y1="245.5" x2="163.0" y2="245.5" stroke="#000" stroke-width="1.0" />
<line x1="194.5" y1="226.3" x2="194.5" y2="232.3" stroke="#000" stroke-width="1.0" />
<line x1="193.0" y1="226.5" x2="196.0" y2="226.5" stroke="#000" stroke-width="1.0" />
<line x1="193.0" y1="232.5" x2="196.0" y2="232.5" stroke="#000" stroke-width="1.0" />
<line x1="194.5" y1="246.3" x2="194.5" y2="250.0" stroke="#000" stroke-width="1.0" />
<line x1="193.3" y1="246.5" x2="195.7" y2="246.5" stroke="#000" stroke-width="1.0" />
<polyline points="59.70,188.70 93.50,221.20 127.30,248.00 161.10,261.60 194.90,261.60" fill="none" stroke="#000" stroke-width="1.2"/>
<polyline points="59.70,188.70 93.50,185.10 127.30,195.10 161.10,189.10 194.90,229.30" fill="none" stroke="#000" stroke-width="1.4" stroke-dasharray="1.4 2.6"/>
<polyline points="59.70,188.70 93.50,187.50 127.30,215.20 161.10,239.90 194.90,250.60" fill="none" stroke="#000" stroke-width="1.3" stroke-dasharray="4.5 2.2 1.4 2.2"/>
<polygon points="56.49999999999999,188.7 59.699999999999996,185.5 62.9,188.7 59.699999999999996,191.89999999999998" fill="#000"/>
<polygon points="90.3,221.2 93.5,218.0 96.7,221.2 93.5,224.39999999999998" fill="#000"/>
<polygon points="124.1,248.0 127.3,244.8 130.5,248.0 127.3,251.2" fill="#000"/>
<polygon points="157.89999999999998,261.6 161.09999999999997,258.40000000000003 164.29999999999995,261.6 161.09999999999997,264.8" fill="#000"/>
<polygon points="191.7,261.6 194.89999999999998,258.40000000000003 198.09999999999997,261.6 194.89999999999998,264.8" fill="#000"/>
<rect x="56.699999999999996" y="185.7" width="6.0" height="6.0" fill="#000"/>
<rect x="90.5" y="182.1" width="6.0" height="6.0" fill="#000"/>
<rect x="124.3" y="192.1" width="6.0" height="6.0" fill="#000"/>
<rect x="158.09999999999997" y="186.1" width="6.0" height="6.0" fill="#000"/>
<rect x="191.89999999999998" y="226.3" width="6.0" height="6.0" fill="#000"/>
<polygon points="56.3,191.42 59.699999999999996,185.13 63.099999999999994,191.42" fill="#000"/>
<polygon points="90.1,190.22 93.5,183.93 96.9,190.22" fill="#000"/>
<polygon points="123.89999999999999,217.92 127.3,211.63 130.7,217.92" fill="#000"/>
<polygon points="157.69999999999996,242.62 161.09999999999997,236.33 164.49999999999997,242.62" fill="#000"/>
<polygon points="191.49999999999997,253.32 194.89999999999998,247.03 198.29999999999998,253.32" fill="#000"/>
<line x1="266.5" y1="162.9" x2="266.5" y2="264.9" stroke="#000" stroke-width="1.1" />
<line x1="263.2" y1="162.9" x2="266.5" y2="162.9" stroke="#000" stroke-width="1.0" />
<text x="258.4" y="166.8" font-size="10.5" text-anchor="end" >25</text>
<line x1="263.2" y1="182.6" x2="266.5" y2="182.6" stroke="#000" stroke-width="1.0" />
<text x="258.4" y="186.5" font-size="10.5" text-anchor="end" >20</text>
<line x1="263.2" y1="202.3" x2="266.5" y2="202.3" stroke="#000" stroke-width="1.0" />
<text x="258.4" y="206.20000000000002" font-size="10.5" text-anchor="end" >15</text>
<line x1="263.2" y1="222.0" x2="266.5" y2="222.0" stroke="#000" stroke-width="1.0" />
<text x="258.4" y="225.9" font-size="10.5" text-anchor="end" >10</text>
<line x1="263.2" y1="241.8" x2="266.5" y2="241.8" stroke="#000" stroke-width="1.0" />
<text x="258.4" y="245.70000000000002" font-size="10.5" text-anchor="end" >5</text>
<line x1="263.2" y1="261.5" x2="266.5" y2="261.5" stroke="#000" stroke-width="1.0" />
<text x="258.4" y="265.4" font-size="10.5" text-anchor="end" >0</text>
<line x1="266.5" y1="261.5" x2="435.1" y2="261.5" stroke="#000" stroke-width="1.1" />
<line x1="300.22" y1="261.5" x2="300.22" y2="264.9" stroke="#000" stroke-width="1.0" />
<line x1="333.94" y1="261.5" x2="333.94" y2="264.9" stroke="#000" stroke-width="1.0" />
<line x1="367.66" y1="261.5" x2="367.66" y2="264.9" stroke="#000" stroke-width="1.0" />
<line x1="401.38" y1="261.5" x2="401.38" y2="264.9" stroke="#000" stroke-width="1.0" />
<line x1="435.1" y1="261.5" x2="435.1" y2="264.9" stroke="#000" stroke-width="1.0" />
<text x="283.36" y="282.3" font-size="10.5" text-anchor="middle" >d0</text>
<text x="317.08000000000004" y="282.3" font-size="10.5" text-anchor="middle" >d1</text>
<text x="350.8" y="282.3" font-size="10.5" text-anchor="middle" >d2</text>
<text x="384.52000000000004" y="282.3" font-size="10.5" text-anchor="middle" >d3</text>
<text x="418.24" y="282.3" font-size="10.5" text-anchor="middle" >d6</text>
<text x="0" y="0" font-size="10.5" text-anchor="middle" transform="translate(237.6,212.0) rotate(-90)" >kynurenine [µM]</text>
<line x1="317.5" y1="204.5" x2="317.5" y2="225.2" stroke="#000" stroke-width="1.0" />
<line x1="316.0" y1="204.5" x2="319.0" y2="204.5" stroke="#000" stroke-width="1.0" />
<line x1="316.0" y1="225.5" x2="319.0" y2="225.5" stroke="#000" stroke-width="1.0" />
<line x1="317.5" y1="239.7" x2="317.5" y2="259.0" stroke="#000" stroke-width="1.0" />
<line x1="316.0" y1="239.5" x2="319.0" y2="239.5" stroke="#000" stroke-width="1.0" />
<line x1="316.0" y1="259.5" x2="319.0" y2="259.5" stroke="#000" stroke-width="1.0" />
<line x1="350.5" y1="175.2" x2="350.5" y2="184.6" stroke="#000" stroke-width="1.0" />
<line x1="349.0" y1="175.5" x2="352.0" y2="175.5" stroke="#000" stroke-width="1.0" />
<line x1="349.0" y1="184.5" x2="352.0" y2="184.5" stroke="#000" stroke-width="1.0" />
<line x1="350.5" y1="225.4" x2="350.5" y2="261.0" stroke="#000" stroke-width="1.0" />
<line x1="349.0" y1="225.5" x2="352.0" y2="225.5" stroke="#000" stroke-width="1.0" />
<line x1="349.0" y1="261.5" x2="352.0" y2="261.5" stroke="#000" stroke-width="1.0" />
<line x1="384.5" y1="211.1" x2="384.5" y2="255.6" stroke="#000" stroke-width="1.0" />
<line x1="383.0" y1="211.5" x2="386.0" y2="211.5" stroke="#000" stroke-width="1.0" />
<line x1="383.0" y1="255.5" x2="386.0" y2="255.5" stroke="#000" stroke-width="1.0" />
<line x1="418.5" y1="215.0" x2="418.5" y2="229.2" stroke="#000" stroke-width="1.0" />
<line x1="417.0" y1="215.5" x2="420.0" y2="215.5" stroke="#000" stroke-width="1.0" />
<line x1="417.0" y1="229.5" x2="420.0" y2="229.5" stroke="#000" stroke-width="1.0" />
<line x1="418.5" y1="230.3" x2="418.5" y2="243.2" stroke="#000" stroke-width="1.0" />
<line x1="417.0" y1="230.5" x2="420.0" y2="230.5" stroke="#000" stroke-width="1.0" />
<line x1="417.0" y1="243.5" x2="420.0" y2="243.5" stroke="#000" stroke-width="1.0" />
<polyline points="283.36,257.30 317.08,215.10 350.80,179.90 384.52,177.60 418.24,189.30" fill="none" stroke="#000" stroke-width="1.2"/>
<polyline points="283.36,257.30 317.08,255.60 350.80,249.10 384.52,234.50 418.24,236.90" fill="none" stroke="#000" stroke-width="1.4" stroke-dasharray="1.4 2.6"/>
<polyline points="283.36,257.30 317.08,251.80 350.80,232.40 384.52,222.10 418.24,222.10" fill="none" stroke="#000" stroke-width="1.3" stroke-dasharray="4.5 2.2 1.4 2.2"/>
<polygon points="280.16,257.3 283.36,254.10000000000002 286.56,257.3 283.36,260.5" fill="#000"/>
<polygon points="313.88000000000005,215.1 317.08000000000004,211.9 320.28000000000003,215.1 317.08000000000004,218.29999999999998" fill="#000"/>
<polygon points="347.6,179.9 350.8,176.70000000000002 354.0,179.9 350.8,183.1" fill="#000"/>
<polygon points="381.32000000000005,177.6 384.52000000000004,174.4 387.72,177.6 384.52000000000004,180.79999999999998" fill="#000"/>
<polygon points="415.04,189.3 418.24,186.10000000000002 421.44,189.3 418.24,192.5" fill="#000"/>
<rect x="280.36" y="254.3" width="6.0" height="6.0" fill="#000"/>
<rect x="314.08000000000004" y="252.6" width="6.0" height="6.0" fill="#000"/>
<rect x="347.8" y="246.1" width="6.0" height="6.0" fill="#000"/>
<rect x="381.52000000000004" y="231.5" width="6.0" height="6.0" fill="#000"/>
<rect x="415.24" y="233.9" width="6.0" height="6.0" fill="#000"/>
<polygon points="279.96000000000004,260.02000000000004 283.36,253.73000000000002 286.76,260.02000000000004" fill="#000"/>
<polygon points="313.68000000000006,254.52 317.08000000000004,248.23000000000002 320.48,254.52" fill="#000"/>
<polygon points="347.40000000000003,235.12 350.8,228.83 354.2,235.12" fill="#000"/>
<polygon points="381.12000000000006,224.82 384.52000000000004,218.53 387.92,224.82" fill="#000"/>
<polygon points="414.84000000000003,224.82 418.24,218.53 421.64,224.82" fill="#000"/>
<text x="441.0" y="265.4" font-size="10.5" text-anchor="start" >n=6</text>
<line x1="436.0" y1="199.2" x2="452.9" y2="199.2" stroke="#000" stroke-width="1.2" />
<polygon points="441.3,199.2 444.5,196.0 447.7,199.2 444.5,202.39999999999998" fill="#000"/>
<line x1="436" y1="213.6" x2="452" y2="213.6" stroke="#000" stroke-width="1.4" stroke-dasharray="1.4 2.6" stroke-dashoffset="-0.3"/>
<rect x="441.5" y="210.6" width="6.0" height="6.0" fill="#000"/>
<line x1="436" y1="228.6" x2="452" y2="228.6" stroke="#000" stroke-width="1.3" stroke-dasharray="4.5 2.2 1.4 2.2"/>
<polygon points="441.1,231.32 444.5,225.03 447.9,231.32" fill="#000"/>
<text x="456.3" y="202.9" font-size="10.5" text-anchor="start" >Th1+SF</text>
<text x="456.3" y="217.4" font-size="10.5" text-anchor="start" >Th2+SF</text>
<text x="456.3" y="232.1" font-size="10.5" text-anchor="start" >Th17+SF</text>
<polyline points="36.5,341.5 119.5,341.5 119.5,416.5" fill="none" stroke="#9c9c9c" stroke-width="1"/>
<line x1="36.5" y1="341.5" x2="36.5" y2="416.5" stroke="#a0a0a0" stroke-width="1" stroke-dasharray="1 1"/>
<line x1="34.5" y1="402.5" x2="37.0" y2="402.5" stroke="#333" stroke-width="1.0" />
<line x1="34.5" y1="387.5" x2="37.0" y2="387.5" stroke="#333" stroke-width="1.0" />
<line x1="34.5" y1="373.5" x2="37.0" y2="373.5" stroke="#333" stroke-width="1.0" />
<line x1="34.5" y1="359.5" x2="37.0" y2="359.5" stroke="#333" stroke-width="1.0" />
<line x1="34.5" y1="345.5" x2="37.0" y2="345.5" stroke="#333" stroke-width="1.0" />
<line x1="35.5" y1="409.5" x2="37.0" y2="409.5" stroke="#888" stroke-width="0.8" />
<line x1="35.5" y1="395.5" x2="37.0" y2="395.5" stroke="#888" stroke-width="0.8" />
<line x1="35.5" y1="380.5" x2="37.0" y2="380.5" stroke="#888" stroke-width="0.8" />
<line x1="35.5" y1="366.5" x2="37.0" y2="366.5" stroke="#888" stroke-width="0.8" />
<line x1="35.5" y1="352.5" x2="37.0" y2="352.5" stroke="#888" stroke-width="0.8" />
<line x1="53.5" y1="416.5" x2="53.5" y2="418.0" stroke="#777" stroke-width="0.8" />
<line x1="69.5" y1="416.5" x2="69.5" y2="418.0" stroke="#777" stroke-width="0.8" />
<line x1="86.5" y1="416.5" x2="86.5" y2="418.0" stroke="#777" stroke-width="0.8" />
<line x1="102.5" y1="416.5" x2="102.5" y2="418.0" stroke="#777" stroke-width="0.8" />
<line x1="36.5" y1="416.5" x2="36.5" y2="418.3" stroke="#444" stroke-width="1.0" />
<line x1="35.0" y1="416.5" x2="120.0" y2="416.5" stroke="#1a1a1a" stroke-width="1.2" />
<polyline points="126.5,341.5 208.5,341.5 208.5,416.5" fill="none" stroke="#9c9c9c" stroke-width="1"/>
<line x1="126.5" y1="341.5" x2="126.5" y2="416.5" stroke="#a0a0a0" stroke-width="1" stroke-dasharray="1 1"/>
<line x1="124.5" y1="402.5" x2="127.0" y2="402.5" stroke="#333" stroke-width="1.0" />
<line x1="124.5" y1="387.5" x2="127.0" y2="387.5" stroke="#333" stroke-width="1.0" />
<line x1="124.5" y1="373.5" x2="127.0" y2="373.5" stroke="#333" stroke-width="1.0" />
<line x1="124.5" y1="359.5" x2="127.0" y2="359.5" stroke="#333" stroke-width="1.0" />
<line x1="124.5" y1="345.5" x2="127.0" y2="345.5" stroke="#333" stroke-width="1.0" />
<line x1="125.5" y1="409.5" x2="127.0" y2="409.5" stroke="#888" stroke-width="0.8" />
<line x1="125.5" y1="395.5" x2="127.0" y2="395.5" stroke="#888" stroke-width="0.8" />
<line x1="125.5" y1="380.5" x2="127.0" y2="380.5" stroke="#888" stroke-width="0.8" />
<line x1="125.5" y1="366.5" x2="127.0" y2="366.5" stroke="#888" stroke-width="0.8" />
<line x1="125.5" y1="352.5" x2="127.0" y2="352.5" stroke="#888" stroke-width="0.8" />
<line x1="142.5" y1="416.5" x2="142.5" y2="418.0" stroke="#777" stroke-width="0.8" />
<line x1="159.5" y1="416.5" x2="159.5" y2="418.0" stroke="#777" stroke-width="0.8" />
<line x1="175.5" y1="416.5" x2="175.5" y2="418.0" stroke="#777" stroke-width="0.8" />
<line x1="192.5" y1="416.5" x2="192.5" y2="418.0" stroke="#777" stroke-width="0.8" />
<line x1="126.5" y1="416.5" x2="126.5" y2="418.3" stroke="#444" stroke-width="1.0" />
<line x1="125.0" y1="416.5" x2="209.0" y2="416.5" stroke="#1a1a1a" stroke-width="1.2" />
<polyline points="215.5,341.5 297.5,341.5 297.5,416.5" fill="none" stroke="#9c9c9c" stroke-width="1"/>
<line x1="215.5" y1="341.5" x2="215.5" y2="416.5" stroke="#a0a0a0" stroke-width="1" stroke-dasharray="1 1"/>
<line x1="213.5" y1="402.5" x2="216.0" y2="402.5" stroke="#333" stroke-width="1.0" />
<line x1="213.5" y1="387.5" x2="216.0" y2="387.5" stroke="#333" stroke-width="1.0" />
<line x1="213.5" y1="373.5" x2="216.0" y2="373.5" stroke="#333" stroke-width="1.0" />
<line x1="213.5" y1="359.5" x2="216.0" y2="359.5" stroke="#333" stroke-width="1.0" />
<line x1="213.5" y1="345.5" x2="216.0" y2="345.5" stroke="#333" stroke-width="1.0" />
<line x1="214.5" y1="409.5" x2="216.0" y2="409.5" stroke="#888" stroke-width="0.8" />
<line x1="214.5" y1="395.5" x2="216.0" y2="395.5" stroke="#888" stroke-width="0.8" />
<line x1="214.5" y1="380.5" x2="216.0" y2="380.5" stroke="#888" stroke-width="0.8" />
<line x1="214.5" y1="366.5" x2="216.0" y2="366.5" stroke="#888" stroke-width="0.8" />
<line x1="214.5" y1="352.5" x2="216.0" y2="352.5" stroke="#888" stroke-width="0.8" />
<line x1="231.5" y1="416.5" x2="231.5" y2="418.0" stroke="#777" stroke-width="0.8" />
<line x1="248.5" y1="416.5" x2="248.5" y2="418.0" stroke="#777" stroke-width="0.8" />
<line x1="264.5" y1="416.5" x2="264.5" y2="418.0" stroke="#777" stroke-width="0.8" />
<line x1="281.5" y1="416.5" x2="281.5" y2="418.0" stroke="#777" stroke-width="0.8" />
<line x1="215.5" y1="416.5" x2="215.5" y2="418.3" stroke="#444" stroke-width="1.0" />
<line x1="214.0" y1="416.5" x2="298.0" y2="416.5" stroke="#1a1a1a" stroke-width="1.2" />
<polygon points="82.60,416.50 83.10,414.72 83.60,413.21 84.10,411.19 84.60,407.80 85.10,403.01 85.60,399.85 86.10,395.43 86.60,392.32 87.10,388.66 87.60,384.50 88.10,380.51 88.60,377.00 89.10,369.51 89.60,364.53 90.10,359.21 90.60,354.07 91.10,351.15 91.60,348.32 92.10,348.89 92.60,352.51 93.10,356.09 93.60,361.74 94.10,366.94 94.60,372.92 95.10,379.43 95.60,383.95 96.10,388.23 96.60,390.50 97.10,393.05 97.60,396.23 98.10,397.87 98.60,398.59 99.10,399.70 99.60,401.61 100.10,403.52 100.60,405.83 101.10,407.60 101.60,409.07 102.10,409.93 102.60,411.02 103.10,412.08 103.60,412.80 104.10,413.42 104.60,414.00 105.10,414.34 105.60,414.68 106.10,415.01 106.60,415.35 107.10,415.69 107.60,416.03 108.10,416.37" fill="#767676" stroke="#2a2a2a" stroke-width="0.6"/>
<polyline points="36.50,416.50 37.00,416.50 37.50,416.50 38.00,416.50 38.50,416.50 39.00,416.50 39.50,416.50 40.00,416.50 40.50,416.50 41.00,416.50 41.50,416.50 42.00,416.50 42.50,416.50 43.00,416.50 43.50,416.50 44.00,416.50 44.50,416.50 45.00,416.50 45.50,416.50 46.00,416.50 46.50,416.50 47.00,416.50 47.50,416.50 48.00,416.50 48.50,416.50 49.00,416.50 49.50,416.50 50.00,416.50 50.50,416.50 51.00,416.50 51.50,416.50 52.00,416.50 52.50,416.50 53.00,416.50 53.50,416.50 54.00,416.50 54.50,416.50 55.00,416.50 55.50,416.50 56.00,416.50 56.50,416.50 57.00,416.50 57.50,416.50 58.00,416.50 58.50,416.45 59.00,416.40 59.50,416.35 60.00,416.30 60.50,416.25 61.00,416.20 61.50,416.15 62.00,416.10 62.50,416.05 63.00,416.00 63.50,415.71 64.00,415.43 64.50,415.14 65.00,414.86 65.50,414.57 66.00,414.29 66.50,414.00 67.00,412.95 67.50,412.02 68.00,410.90 68.50,408.52 69.00,405.87 69.50,403.74 70.00,400.96 70.50,396.11 71.00,393.01 71.50,388.23 72.00,383.70 72.50,377.34 73.00,372.24 73.50,367.23 74.00,363.67 74.50,359.86 75.00,357.11 75.50,354.23 76.00,352.66 76.50,348.57 77.00,346.71 77.50,351.42 78.00,354.73 78.50,356.43 79.00,362.06 79.50,371.93 80.00,376.57 80.50,379.06 81.00,380.18 81.50,381.53 82.00,383.04 82.50,383.15 83.00,384.72 83.50,386.65 84.00,389.33 84.50,391.75 85.00,394.30 85.50,395.91 86.00,397.76 86.50,399.88 87.00,400.94 87.50,401.82 88.00,401.93 88.50,403.59 89.00,403.68 89.50,404.97 90.00,405.14 90.50,405.25 91.00,405.55 91.50,406.18 92.00,407.07 92.50,407.61 93.00,407.52 93.50,407.68 94.00,408.32 94.50,408.58 95.00,408.60 95.50,408.65 96.00,409.19 96.50,408.86 97.00,409.32 97.50,409.70 98.00,410.37 98.50,410.33 99.00,410.76 99.50,410.67 100.00,410.72 100.50,410.97 101.00,411.75 101.50,411.99 102.00,412.15 102.50,412.42 103.00,413.17 103.50,413.61 104.00,414.06 104.50,414.50 105.00,414.66 105.50,414.83 106.00,414.99 106.50,415.15 107.00,415.32 107.50,415.48 108.00,415.65 108.50,415.81 109.00,415.97 109.50,416.14 110.00,416.30 110.50,416.31 111.00,416.32 111.50,416.33 112.00,416.34 112.50,416.35 113.00,416.36 113.50,416.37 114.00,416.38 114.50,416.39 115.00,416.41 115.50,416.42 116.00,416.43 116.50,416.44 117.00,416.45 117.50,416.46 118.00,416.47 118.50,416.48 119.00,416.49 119.50,416.50" fill="none" stroke="#222" stroke-width="0.8"/>
<polygon points="173.20,416.50 173.70,415.22 174.20,413.93 174.70,412.76 175.20,411.31 175.70,409.88 176.20,408.95 176.70,405.91 177.20,401.74 177.70,398.07 178.20,395.12 178.70,388.85 179.20,382.20 179.70,374.05 180.20,367.35 180.70,359.21 181.20,355.61 181.70,351.81 182.20,357.15 182.70,358.79 183.20,365.67 183.70,371.49 184.20,378.70 184.70,382.92 185.20,384.17 185.70,387.52 186.20,390.03 186.70,392.87 187.20,396.46 187.70,400.36 188.20,404.27 188.70,406.88 189.20,408.06 189.70,410.31 190.20,412.21 190.70,413.49 191.20,413.70 191.70,414.20 192.20,414.70 192.70,415.20 193.20,415.70 193.70,415.90 194.20,416.03 194.70,416.16 195.20,416.29 195.70,416.42" fill="#767676" stroke="#2a2a2a" stroke-width="0.6"/>
<polyline points="126.50,416.50 127.00,416.50 127.50,416.50 128.00,416.50 128.50,416.50 129.00,416.50 129.50,416.50 130.00,416.50 130.50,416.50 131.00,416.50 131.50,416.50 132.00,416.50 132.50,416.50 133.00,416.50 133.50,416.50 134.00,416.50 134.50,416.50 135.00,416.50 135.50,416.50 136.00,416.50 136.50,416.50 137.00,416.50 137.50,416.50 138.00,416.50 138.50,416.50 139.00,416.50 139.50,416.50 140.00,416.50 140.50,416.50 141.00,416.50 141.50,416.50 142.00,416.50 142.50,416.50 143.00,416.50 143.50,416.50 144.00,416.50 144.50,416.50 145.00,416.50 145.50,416.50 146.00,416.50 146.50,416.50 147.00,416.50 147.50,416.50 148.00,416.50 148.50,416.50 149.00,416.50 149.50,416.50 150.00,416.50 150.50,416.50 151.00,416.50 151.50,416.50 152.00,416.50 152.50,416.20 153.00,415.90 153.50,415.60 154.00,415.30 154.50,415.00 155.00,414.00 155.50,412.77 156.00,411.66 156.50,410.61 157.00,409.85 157.50,409.28 158.00,408.27 158.50,405.66 159.00,403.51 159.50,400.98 160.00,397.06 160.50,392.83 161.00,390.12 161.50,385.85 162.00,380.12 162.50,376.95 163.00,371.89 163.50,367.41 164.00,362.82 164.50,357.92 165.00,352.98 165.50,350.71 166.00,348.89 166.50,351.51 167.00,350.99 167.50,355.44 168.00,356.02 168.50,360.27 169.00,365.26 169.50,369.62 170.00,373.95 170.50,378.38 171.00,382.22 171.50,385.01 172.00,388.96 172.50,390.14 173.00,392.08 173.50,394.58 174.00,394.89 174.50,397.12 175.00,399.34 175.50,400.25 176.00,400.27 176.50,401.27 177.00,402.31 177.50,404.33 178.00,404.54 178.50,406.07 179.00,406.83 179.50,406.75 180.00,407.20 180.50,408.39 181.00,408.57 181.50,408.75 182.00,409.67 182.50,409.83 183.00,410.32 183.50,409.76 184.00,410.07 184.50,409.89 185.00,409.32 185.50,409.29 186.00,408.76 186.50,409.70 187.00,410.64 187.50,411.74 188.00,412.39 188.50,412.66 189.00,413.25 189.50,414.07 190.00,414.73 190.50,415.08 191.00,415.22 191.50,415.35 192.00,415.49 192.50,415.62 193.00,415.76 193.50,415.89 194.00,416.03 194.50,416.16 195.00,416.30 195.50,416.31 196.00,416.31 196.50,416.32 197.00,416.33 197.50,416.34 198.00,416.34 198.50,416.35 199.00,416.36 199.50,416.37 200.00,416.37 200.50,416.38 201.00,416.39 201.50,416.40 202.00,416.40 202.50,416.41 203.00,416.42 203.50,416.43 204.00,416.43 204.50,416.44 205.00,416.45 205.50,416.46 206.00,416.46 206.50,416.47 207.00,416.48 207.50,416.49 208.00,416.49 208.50,416.50" fill="none" stroke="#222" stroke-width="0.8"/>
<polygon points="215.50,416.50 216.00,416.50 216.50,416.50 217.00,416.50 217.50,416.50 218.00,416.50 218.50,416.50 219.00,416.50 219.50,416.50 220.00,416.50 220.50,416.50 221.00,416.50 221.50,416.50 222.00,416.50 222.50,416.50 223.00,416.50 223.50,416.50 224.00,416.50 224.50,416.50 225.00,416.50 225.50,416.50 226.00,416.50 226.50,416.50 227.00,416.50 227.50,416.50 228.00,416.50 228.50,416.50 229.00,416.50 229.50,416.50 230.00,416.50 230.50,416.50 231.00,416.50 231.50,416.50 232.00,416.50 232.50,416.50 233.00,416.50 233.50,416.50 234.00,416.50 234.50,416.50 235.00,416.50 235.50,416.50 236.00,416.50 236.50,416.50 237.00,416.50 237.50,416.50 238.00,416.50 238.50,416.36 239.00,416.21 239.50,416.07 240.00,415.93 240.50,415.79 241.00,415.64 241.50,415.50 242.00,415.02 242.50,414.54 243.00,414.06 243.50,413.58 244.00,412.96 244.50,412.02 245.00,411.37 245.50,409.79 246.00,409.35 246.50,408.33 247.00,405.86 247.50,402.84 248.00,399.65 248.50,396.05 249.00,392.07 249.50,388.18 250.00,385.01 250.50,378.60 251.00,373.04 251.50,368.54 252.00,362.34 252.50,357.04 253.00,352.65 253.50,351.90 254.00,349.17 254.50,348.85 255.00,349.44 255.50,351.33 256.00,350.25 256.50,350.64 257.00,351.46 257.50,353.66 258.00,355.88 258.50,358.55 259.00,362.51 259.50,367.43 260.00,372.37 260.50,375.94 261.00,379.55 261.50,383.19 262.00,385.83 262.50,387.16 263.00,390.74 263.50,392.13 264.00,394.89 264.50,396.91 265.00,398.82 265.50,399.46 266.00,400.93 266.50,402.32 267.00,403.61 267.50,405.10 268.00,405.19 268.50,405.35 269.00,405.88 269.50,406.95 270.00,406.89 270.50,407.05 271.00,407.94 271.50,408.02 272.00,408.58 272.50,407.95 273.00,408.54 273.50,409.14 274.00,409.64 274.50,410.19 275.00,409.94 275.50,410.65 276.00,411.01 276.50,411.58 277.00,412.64 277.50,412.88 278.00,413.59 278.50,413.85 279.00,414.23 279.50,414.50 280.00,414.77 280.50,415.04 281.00,415.30 281.50,415.57 282.00,415.84 282.50,416.01 283.00,416.05 283.50,416.08 284.00,416.11 284.50,416.14 285.00,416.18 285.50,416.21 286.00,416.24 286.50,416.27 287.00,416.31 287.50,416.34 288.00,416.37 288.50,416.40 289.00,416.44 289.50,416.47 290.00,416.50 290.50,416.50 291.00,416.50 291.50,416.50 292.00,416.50 292.50,416.50 293.00,416.50 293.50,416.50 294.00,416.50 294.50,416.50 295.00,416.50 295.50,416.50 296.00,416.50 296.50,416.50 297.00,416.50 297.50,416.50" fill="#767676" stroke="#2a2a2a" stroke-width="0.6"/>
<polyline points="215.50,416.50 216.00,416.50 216.50,416.50 217.00,416.50 217.50,416.50 218.00,416.50 218.50,416.50 219.00,416.50 219.50,416.50 220.00,416.50 220.50,416.50 221.00,416.50 221.50,416.50 222.00,416.50 222.50,416.50 223.00,416.50 223.50,416.50 224.00,416.50 224.50,416.50 225.00,416.50 225.50,416.50 226.00,416.50 226.50,416.50 227.00,416.50 227.50,416.50 228.00,416.50 228.50,416.50 229.00,416.50 229.50,416.50 230.00,416.50 230.50,416.50 231.00,416.50 231.50,416.50 232.00,416.50 232.50,416.50 233.00,416.50 233.50,416.50 234.00,416.50 234.50,416.50 235.00,416.50 235.50,416.50 236.00,416.50 236.50,416.50 237.00,416.50 237.50,416.50 238.00,416.50 238.50,416.36 239.00,416.21 239.50,416.07 240.00,415.93 240.50,415.79 241.00,415.64 241.50,415.50 242.00,415.02 242.50,414.54 243.00,414.06 243.50,413.58 244.00,412.92 244.50,412.28 245.00,411.00 245.50,409.86 246.00,409.33 246.50,408.53 247.00,405.06 247.50,402.62 248.00,399.66 248.50,395.89 249.00,392.15 249.50,387.79 250.00,383.92 250.50,378.95 251.00,373.92 251.50,368.30 252.00,362.23 252.50,356.90 253.00,353.42 253.50,352.24 254.00,348.78 254.50,347.00 255.00,347.57 255.50,350.80 256.00,351.02 256.50,350.58 257.00,351.47 257.50,353.39 258.00,355.46 258.50,359.04 259.00,362.16 259.50,366.84 260.00,372.53 260.50,375.38 261.00,378.60 261.50,382.14 262.00,386.37 262.50,387.51 263.00,390.27 263.50,392.24 264.00,394.66 264.50,397.63 265.00,399.19 265.50,399.68 266.00,400.86 266.50,402.92 267.00,403.67 267.50,404.09 268.00,405.55 268.50,405.46 269.00,406.34 269.50,406.33 270.00,407.27 270.50,407.28 271.00,407.30 271.50,407.40 272.00,408.15 272.50,408.47 273.00,408.95 273.50,408.47 274.00,409.45 274.50,409.72 275.00,410.32 275.50,410.53 276.00,411.14 276.50,411.82 277.00,412.61 277.50,412.58 278.00,413.33 278.50,413.85 279.00,414.23 279.50,414.50 280.00,414.77 280.50,415.04 281.00,415.30 281.50,415.57 282.00,415.84 282.50,416.01 283.00,416.05 283.50,416.08 284.00,416.11 284.50,416.14 285.00,416.18 285.50,416.21 286.00,416.24 286.50,416.27 287.00,416.31 287.50,416.34 288.00,416.37 288.50,416.40 289.00,416.44 289.50,416.47 290.00,416.50 290.50,416.50 291.00,416.50 291.50,416.50 292.00,416.50 292.50,416.50 293.00,416.50 293.50,416.50 294.00,416.50 294.50,416.50 295.00,416.50 295.50,416.50 296.00,416.50 296.50,416.50 297.00,416.50 297.50,416.50" fill="none" stroke="#111" stroke-width="0.9"/>
<text x="77.8" y="332.3" font-size="12.6" text-anchor="middle" >total Th</text>
<text x="166.9" y="332.3" font-size="12.6" text-anchor="middle" >Th1</text>
<text x="256.0" y="332.3" font-size="12.6" text-anchor="middle" >Th17</text>
<line x1="23.6" y1="417.0" x2="23.6" y2="344.9" stroke="#151515" stroke-width="1.5" />
<polygon points="21.1,346.7 23.6,339.9 26.1,346.7" fill="#111"/>
<line x1="36.3" y1="429.0" x2="293.9" y2="429.0" stroke="#333" stroke-width="1.6" />
<polygon points="292.09999999999997,426.5 298.9,429.0 292.09999999999997,431.5" fill="#111"/>
<text x="0" y="0" font-size="10.5" text-anchor="middle" transform="translate(13.8,380.0) rotate(-90)" >cell number</text>
<text x="90.2" y="446.5" font-size="10.5">CellTrace<tspan font-size="7" dy="-3.6">TM</tspan><tspan dy="3.6"> Violet fluorescence</tspan></text>
</svg></body></html>
